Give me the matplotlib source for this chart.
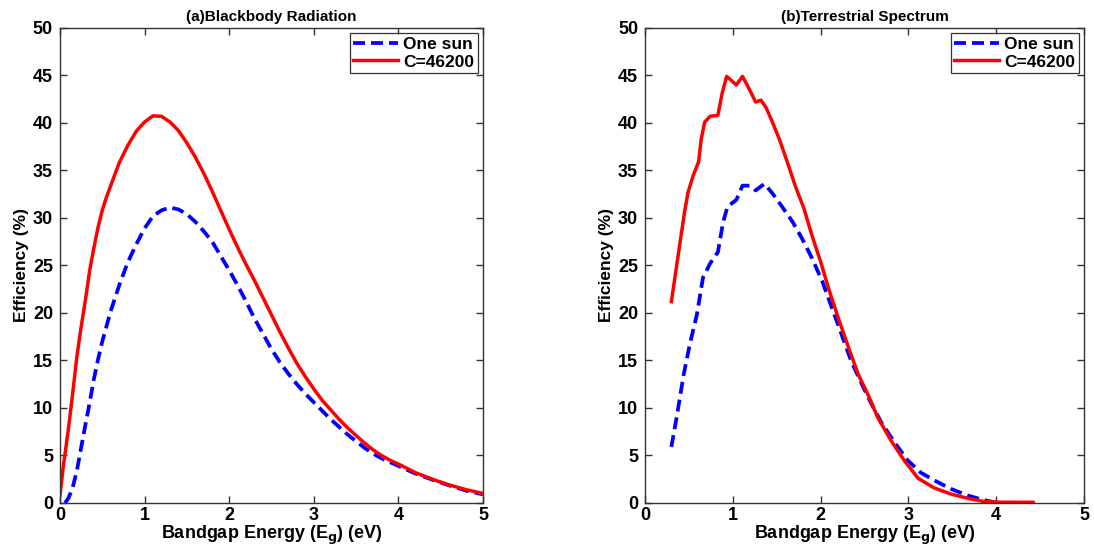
import matplotlib
matplotlib.use("Agg")
import matplotlib.pyplot as plt

plt.rcParams['font.family'] = ['Liberation Sans', 'DejaVu Sans']
plt.rcParams['font.weight'] = 'bold'
plt.rcParams['mathtext.default'] = 'bf'

# (a) Blackbody radiation: efficiency (%) vs bandgap energy (eV)
bb_one_sun_eg = [0.06, 0.1, 0.15, 0.2, 0.25, 0.3, 0.35, 0.4, 0.45, 0.5, 0.55,
                 0.6, 0.7, 0.8, 0.9, 1.0, 1.1, 1.2, 1.3, 1.4, 1.5, 1.6, 1.7,
                 1.8, 1.9, 2.0, 2.1, 2.2, 2.3, 2.4, 2.5, 2.6, 2.7, 2.8, 2.9,
                 3.0, 3.1, 3.2, 3.3, 3.4, 3.5, 3.6, 3.7, 3.8, 3.9, 4.0, 4.2,
                 4.4, 4.6, 4.8, 5.0]
bb_one_sun_eff = [0.0, 0.5, 1.6, 3.4, 5.8, 8.2, 10.5, 13.0, 15.1, 17.0, 18.6,
                  20.2, 22.9, 25.3, 27.2, 28.9, 30.2, 30.8, 31.1, 30.9, 30.4,
                  29.6, 28.6, 27.5, 26.0, 24.5, 22.9, 21.2, 19.4, 17.8, 16.2,
                  14.8, 13.6, 12.5, 11.5, 10.6, 9.7, 8.8, 8.0, 7.2, 6.5, 5.8,
                  5.2, 4.7, 4.3, 3.9, 3.1, 2.45, 1.85, 1.3, 0.9]

bb_conc_eg = [0.0, 0.02, 0.04, 0.07, 0.1, 0.15, 0.2, 0.25, 0.3, 0.35, 0.4,
              0.45, 0.5, 0.55, 0.6, 0.7, 0.8, 0.9, 1.0, 1.1, 1.2, 1.3, 1.4,
              1.5, 1.6, 1.7, 1.8, 1.9, 2.0, 2.1, 2.2, 2.3, 2.4, 2.5, 2.6,
              2.7, 2.8, 2.9, 3.0, 3.1, 3.2, 3.3, 3.4, 3.5, 3.6, 3.7, 3.8,
              3.9, 4.0, 4.2, 4.4, 4.6, 4.8, 5.0]
bb_conc_eff = [0.8, 2.3, 3.9, 5.8, 7.8, 11.5, 15.4, 18.5, 21.3, 24.4, 26.8,
               29.0, 30.8, 32.2, 33.4, 35.8, 37.6, 39.1, 40.1, 40.75, 40.7,
               40.1, 39.2, 37.9, 36.4, 34.7, 32.8, 30.8, 28.8, 26.9, 25.1,
               23.4, 21.6, 19.8, 18.0, 16.3, 14.7, 13.3, 12.0, 10.8, 9.8,
               8.8, 7.9, 7.1, 6.3, 5.6, 5.0, 4.5, 4.1, 3.2, 2.5, 1.9, 1.4,
               1.0]

# (b) Terrestrial spectrum
ts_one_sun_eg = [0.30, 0.36, 0.44, 0.51, 0.59, 0.66, 0.74, 0.83, 0.89, 0.94, 1.04,
                 1.11, 1.19, 1.26, 1.36, 1.45, 1.56, 1.68, 1.79, 1.90, 2.02, 2.13,
                 2.24, 2.35, 2.47, 2.58, 2.69, 2.84, 2.99, 3.14, 3.29, 3.48, 3.67,
                 3.86, 3.97]
ts_one_sun_eff = [5.9, 9.0, 13.5, 16.7, 19.8, 23.7, 25.2, 26.4, 29.6, 31.2, 31.9,
                  33.4, 33.4, 32.9, 33.6, 32.6, 31.2, 29.6, 27.8, 25.8, 23.3, 20.5,
                  17.7, 14.9, 12.5, 10.4, 8.5, 6.4, 4.5, 3.2, 2.4, 1.5, 0.8,
                  0.3, 0.1]

ts_conc_eg = [0.30, 0.34, 0.40, 0.45, 0.49, 0.55, 0.61, 0.64, 0.68, 0.74, 0.83,
              0.88, 0.93, 1.04, 1.11, 1.18, 1.26, 1.32, 1.38, 1.45, 1.53, 1.62,
              1.71, 1.81, 1.90, 2.0, 2.09, 2.20, 2.32, 2.43, 2.54, 2.65, 2.80,
              2.95, 3.11, 3.29, 3.48, 3.67, 3.86, 4.05, 4.42]
ts_conc_eff = [21.2, 23.7, 27.5, 30.6, 32.7, 34.5, 35.9, 38.3, 40.1, 40.7, 40.8,
               43.2, 44.9, 44.0, 44.9, 43.7, 42.2, 42.4, 41.6, 40.1, 38.3, 35.9,
               33.4, 31.0, 28.2, 25.4, 22.6, 19.5, 16.3, 13.5, 11.4, 9.0, 6.6,
               4.5, 2.6, 1.6, 0.95, 0.5, 0.15, 0.08, 0.07]

panel_titles = ['(a)Blackbody Radiation', '(b)Terrestrial Spectrum']
series_labels = ['One sun', 'C=46200']
x_ticks = [0, 1, 2, 3, 4, 5]
y_ticks = [0, 5, 10, 15, 20, 25, 30, 35, 40, 45, 50]

fig = plt.figure(figsize=(10.94, 5.46), dpi=100)
ax_a = fig.add_axes([0.0548, 0.0788, 0.3867, 0.870])
ax_b = fig.add_axes([0.5896, 0.0788, 0.4013, 0.870])

panels = [
    (ax_a, bb_one_sun_eg, bb_one_sun_eff, bb_conc_eg, bb_conc_eff, panel_titles[0]),
    (ax_b, ts_one_sun_eg, ts_one_sun_eff, ts_conc_eg, ts_conc_eff, panel_titles[1]),
]

for ax, x1, y1, x2, y2, title in panels:
    ax.plot(x1, y1, color='#0000ff', linestyle=(0, (3.2, 1.6)), linewidth=2.7,
            label=series_labels[0])
    ax.plot(x2, y2, color='#ff0000', linestyle='-', linewidth=2.5,
            label=series_labels[1])
    ax.set_xlim(0, 5)
    ax.set_ylim(0, 50)
    ax.set_xticks(x_ticks)
    ax.set_yticks(y_ticks)
    ax.tick_params(direction='in', length=5, width=1, top=True, right=True,
                   labelsize=13, colors='#333333', labelcolor='black')
    ax.tick_params(axis='x', pad=3)
    ax.tick_params(axis='y', pad=5)
    for lab in ax.get_xticklabels() + ax.get_yticklabels():
        lab.set_fontweight('bold')
    for sp in ax.spines.values():
        sp.set_color('#333333')
        sp.set_linewidth(1.0)
    ax.set_title(title, fontsize=11, fontweight='bold', pad=5)
    ax.set_xlabel('Bandgap Energy (E$_\\mathbf{g}$) (eV)', fontsize=13,
                  fontweight='bold', labelpad=0)
    ax.set_ylabel('Efficiency (%)', fontsize=12.5, fontweight='bold', labelpad=3)
    leg = ax.legend(loc='upper right', frameon=True, fancybox=False,
                    borderpad=0.2, handlelength=2.6, handletextpad=0.3,
                    labelspacing=0.15, borderaxespad=0.3,
                    prop={'weight': 'bold', 'size': 12.5})
    leg.get_frame().set_edgecolor('black')
    leg.get_frame().set_linewidth(0.9)

fig.savefig('out.png', dpi=100)
